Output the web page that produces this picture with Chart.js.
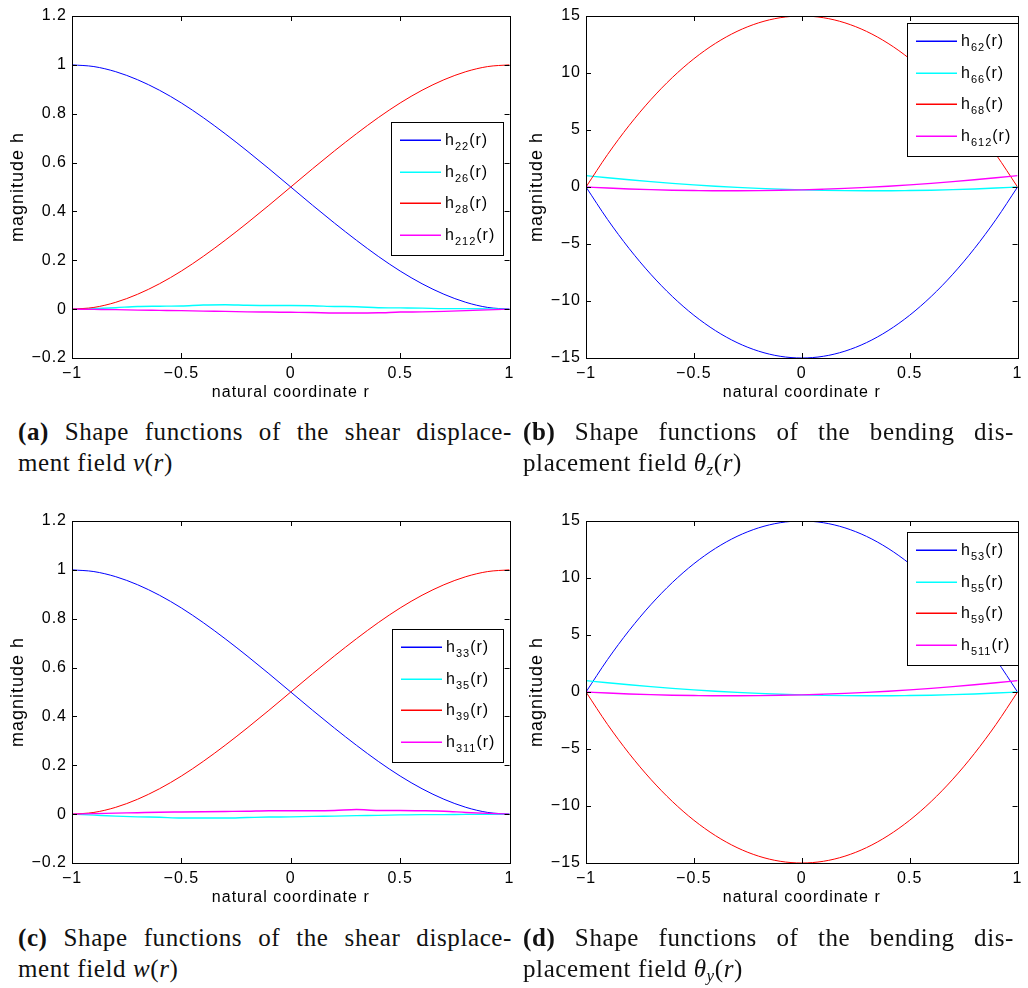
<!DOCTYPE html>
<html>
<head>
<meta charset="utf-8">
<script src="https://cdn.jsdelivr.net/npm/chart.js@4.4.1/dist/chart.umd.min.js"></script>
<style>
  body { margin: 0; background: #fff; }
  #wrap { position: relative; width: 1028px; height: 988px; overflow: hidden; }
  canvas { position: absolute; }
  .cap { position: absolute; font-family: "Liberation Serif", serif; font-size: 25px; line-height: 31px; color: #111; letter-spacing: 0.6px; }
  .cap .l1 { text-align: justify; text-align-last: justify; }
  .cap b { font-weight: bold; }
  .cap i { font-style: italic; }
  .cap sub { font-size: 17px; vertical-align: -4px; line-height: 0; font-style: italic; }
</style>
</head>
<body>
<div id="wrap">
  <canvas id="chartA" width="520" height="405" style="left:0;top:0"></canvas>
  <canvas id="chartB" width="514" height="405" style="left:514px;top:0"></canvas>
  <canvas id="chartC" width="520" height="405" style="left:0;top:505px"></canvas>
  <canvas id="chartD" width="514" height="405" style="left:514px;top:505px"></canvas>

  <div class="cap" style="left:18px;top:416px;width:494px">
    <div class="l1"><b>(a)</b> Shape functions of the shear displace-</div>
    <div>ment field <i>v</i>(<i>r</i>)</div>
  </div>
  <div class="cap" style="left:523px;top:416px;width:491px">
    <div class="l1"><b>(b)</b> Shape functions of the bending dis-</div>
    <div>placement field <i>θ</i><sub>z</sub>(<i>r</i>)</div>
  </div>
  <div class="cap" style="left:18px;top:922px;width:494px">
    <div class="l1"><b>(c)</b> Shape functions of the shear displace-</div>
    <div>ment field <i>w</i>(<i>r</i>)</div>
  </div>
  <div class="cap" style="left:523px;top:922px;width:491px">
    <div class="l1"><b>(d)</b> Shape functions of the bending dis-</div>
    <div>placement field <i>θ</i><sub>y</sub>(<i>r</i>)</div>
  </div>
</div>

<script>
// natural coordinate r (sample points)
const rVals = [-1, -0.9, -0.8, -0.7, -0.6, -0.5, -0.4, -0.3, -0.2, -0.1, 0, 0.1, 0.2, 0.3, 0.4, 0.5, 0.6, 0.7, 0.8, 0.9, 1];

// (a) shear displacement field v(r)
const h22 = [1, 0.993, 0.972, 0.939, 0.896, 0.844, 0.784, 0.718, 0.648, 0.575, 0.5, 0.425, 0.352, 0.282, 0.216, 0.156, 0.104, 0.061, 0.028, 0.007, 0];
const h26 = [0, 0.002, 0.006, 0.011, 0.012, 0.013, 0.017, 0.018, 0.016, 0.015, 0.015, 0.014, 0.011, 0.010, 0.006, 0.005, 0.004, 0.002, 0.002, 0.001, 0];
const h28 = [0, 0.007, 0.028, 0.061, 0.104, 0.156, 0.216, 0.282, 0.352, 0.425, 0.5, 0.575, 0.648, 0.718, 0.784, 0.844, 0.896, 0.939, 0.972, 0.993, 1];
const h212 = [0, -0.001, -0.002, -0.004, -0.005, -0.006, -0.008, -0.009, -0.011, -0.012, -0.013, -0.014, -0.016, -0.016, -0.015, -0.012, -0.011, -0.009, -0.006, -0.003, 0];

// (b) bending displacement field theta_z(r)
const h62 = [0, -2.85, -5.4, -7.65, -9.6, -11.25, -12.6, -13.65, -14.4, -14.85, -15, -14.85, -14.4, -13.65, -12.6, -11.25, -9.6, -7.65, -5.4, -2.85, 0];
const h66 = [1, 0.81, 0.63, 0.47, 0.32, 0.19, 0.07, -0.03, -0.12, -0.19, -0.25, -0.29, -0.32, -0.33, -0.33, -0.31, -0.28, -0.23, -0.17, -0.09, 0];
const h68 = [0, 2.85, 5.4, 7.65, 9.6, 11.25, 12.6, 13.65, 14.4, 14.85, 15, 14.85, 14.4, 13.65, 12.6, 11.25, 9.6, 7.65, 5.4, 2.85, 0];
const h612 = [0, -0.09, -0.17, -0.23, -0.28, -0.31, -0.33, -0.33, -0.32, -0.29, -0.25, -0.19, -0.12, -0.03, 0.07, 0.19, 0.32, 0.47, 0.63, 0.81, 1];

// (c) shear displacement field w(r)
const h33 = [1, 0.993, 0.972, 0.939, 0.896, 0.844, 0.784, 0.718, 0.648, 0.575, 0.5, 0.425, 0.352, 0.282, 0.216, 0.156, 0.104, 0.061, 0.028, 0.007, 0];
const h35 = [0, -0.004, -0.008, -0.011, -0.013, -0.016, -0.016, -0.016, -0.014, -0.012, -0.011, -0.009, -0.008, -0.006, -0.005, -0.003, -0.002, -0.002, -0.001, -0.001, 0];
const h39 = [0, 0.007, 0.028, 0.061, 0.104, 0.156, 0.216, 0.282, 0.352, 0.425, 0.5, 0.575, 0.648, 0.718, 0.784, 0.844, 0.896, 0.939, 0.972, 0.993, 1];
const h311 = [0, 0.002, 0.004, 0.006, 0.008, 0.009, 0.010, 0.011, 0.012, 0.014, 0.014, 0.014, 0.015, 0.019, 0.015, 0.015, 0.014, 0.012, 0.007, 0.003, 0];

// (d) bending displacement field theta_y(r)
const h53 = [0, 2.85, 5.4, 7.65, 9.6, 11.25, 12.6, 13.65, 14.4, 14.85, 15, 14.85, 14.4, 13.65, 12.6, 11.25, 9.6, 7.65, 5.4, 2.85, 0];
const h55 = [1, 0.81, 0.63, 0.47, 0.32, 0.19, 0.07, -0.03, -0.12, -0.19, -0.25, -0.29, -0.32, -0.33, -0.33, -0.31, -0.28, -0.23, -0.17, -0.09, 0];
const h59 = [0, -2.85, -5.4, -7.65, -9.6, -11.25, -12.6, -13.65, -14.4, -14.85, -15, -14.85, -14.4, -13.65, -12.6, -11.25, -9.6, -7.65, -5.4, -2.85, 0];
const h511 = [0, -0.09, -0.17, -0.23, -0.28, -0.31, -0.33, -0.33, -0.32, -0.29, -0.25, -0.19, -0.12, -0.03, 0.07, 0.19, 0.32, 0.47, 0.63, 0.81, 1];

const xTicks = [-1, -0.5, 0, 0.5, 1];
const lineColors = ["#0000ff", "#00ffff", "#ff0000", "#ff00ff"];

const tickFont = { family: "'Liberation Sans', Arial, sans-serif", size: 16 };
const xTitleFont = { family: "'Liberation Sans', Arial, sans-serif", size: 16 };
const yTitleFont = { family: "'Liberation Sans', Arial, sans-serif", size: 18 };

function fmt(v) {
  const n = Math.round(v * 10) / 10;
  return n < 0 ? "\u2212" + String(-n) : String(n);
}

// the original figure's text is a bit wider than plain Arial
const wideText = {
  id: "wideText",
  beforeDraw(chart) { chart.ctx.letterSpacing = "1px"; }
};

// MATLAB-style box with inward ticks
const matlabBox = {
  id: "matlabBox",
  afterDatasetsDraw(chart) {
    const { ctx, chartArea: a, scales } = chart;
    ctx.save();
    ctx.strokeStyle = "#000";
    ctx.lineWidth = 1;
    ctx.strokeRect(Math.round(a.left) + 0.5, Math.round(a.top) + 0.5, Math.round(a.right - a.left), Math.round(a.bottom - a.top));
    ctx.beginPath();
    scales.x.ticks.forEach(t => {
      const px = Math.round(scales.x.getPixelForValue(t.value)) + 0.5;
      ctx.moveTo(px, a.bottom); ctx.lineTo(px, a.bottom - 5);
      ctx.moveTo(px, a.top); ctx.lineTo(px, a.top + 5);
    });
    scales.y.ticks.forEach(t => {
      const py = Math.round(scales.y.getPixelForValue(t.value)) + 0.5;
      ctx.moveTo(a.left, py); ctx.lineTo(a.left + 5, py);
      ctx.moveTo(a.right, py); ctx.lineTo(a.right - 5, py);
    });
    ctx.stroke();
    ctx.restore();
  }
};

// boxed legend with subscripted names
const boxLegend = {
  id: "boxLegend",
  afterDraw(chart, args, opts) {
    const { ctx } = chart;
    const { x, y, w, h, subs } = opts;
    ctx.save();
    ctx.fillStyle = "#fff";
    ctx.fillRect(x, y, w, h);
    ctx.strokeStyle = "#000";
    ctx.lineWidth = 1;
    ctx.strokeRect(x + 0.5, y + 0.5, w, h);
    for (let i = 0; i < subs.length; i++) {
      const s = subs[i];
      const ly = Math.round(y + 18 + i * 31.5);
      ctx.fillStyle = lineColors[i];
      ctx.fillRect(x + 9, ly - 0.5, 41, 1.5);
      ctx.fillStyle = "#000";
      ctx.textBaseline = "alphabetic";
      ctx.textAlign = "left";
      let tx = x + 54;
      ctx.font = "16px 'Liberation Sans', Arial, sans-serif";
      ctx.fillText("h", tx, ly + 5);
      tx += ctx.measureText("h").width;
      ctx.font = "11px 'Liberation Sans', Arial, sans-serif";
      ctx.fillText(s, tx, ly + 10);
      tx += ctx.measureText(s).width;
      ctx.font = "16px 'Liberation Sans', Arial, sans-serif";
      ctx.fillText("(r)", tx, ly + 5);
    }
    ctx.restore();
  }
};

function makePanel(id, series, subs, yMin, yMax, yStep, rightPad, legendBox, yTitlePad) {
  const datasets = series.map((vals, i) => ({
    label: "h" + subs[i] + "(r)",
    data: rVals.map((r, k) => ({ x: r, y: vals[k] })),
    borderColor: lineColors[i],
    borderWidth: i === 1 || i === 3 ? 1.4 : 1,
    pointRadius: 0,
    fill: false,
    tension: 0,
    cubicInterpolationMode: "monotone",
    order: 4 - i
  }));

  return new Chart(document.getElementById(id).getContext("2d"), {
    type: "line",
    data: { datasets },
    plugins: [wideText, matlabBox, boxLegend],
    options: {
      responsive: false,
      animation: false,
      layout: { padding: { left: 0, top: 16, right: rightPad, bottom: 0 } },
      plugins: {
        legend: { display: false },
        tooltip: { enabled: false },
        boxLegend: Object.assign({ subs }, legendBox)
      },
      scales: {
        x: {
          type: "linear", min: -1, max: 1,
          afterBuildTicks: s => { s.ticks = xTicks.map(v => ({ value: v })); },
          afterFit: s => { s.height = 47; },
          grid: { display: false, drawTicks: false },
          border: { display: false },
          ticks: { color: "#000", font: tickFont, padding: 6, maxRotation: 0, callback: v => fmt(v) },
          title: { display: true, text: "natural coordinate r", color: "#000", font: xTitleFont, padding: { top: 0, bottom: 3 } }
        },
        y: {
          min: yMin, max: yMax,
          afterFit: s => { s.width = 72; },
          grid: { display: false, drawTicks: false },
          border: { display: false },
          ticks: { color: "#000", font: tickFont, padding: 5, stepSize: yStep, callback: v => fmt(v) },
          title: { display: true, text: "magnitude h", color: "#000", font: yTitleFont, padding: { top: yTitlePad, bottom: 0 } }
        }
      }
    }
  });
}

makePanel("chartA", [h22, h26, h28, h212], ["22", "26", "28", "212"], -0.2, 1.2, 0.2, 10, { x: 391, y: 122, w: 112, h: 133 }, 7);
makePanel("chartB", [h62, h66, h68, h612], ["62", "66", "68", "612"], -15, 15, 5, 5, { x: 393, y: 23, w: 111, h: 133 }, 12);
makePanel("chartC", [h33, h35, h39, h311], ["33", "35", "39", "311"], -0.2, 1.2, 0.2, 10, { x: 392, y: 124, w: 111, h: 133 }, 7);
makePanel("chartD", [h53, h55, h59, h511], ["53", "55", "59", "511"], -15, 15, 5, 5, { x: 393, y: 27, w: 111, h: 133 }, 12);
</script>
</body>
</html>
